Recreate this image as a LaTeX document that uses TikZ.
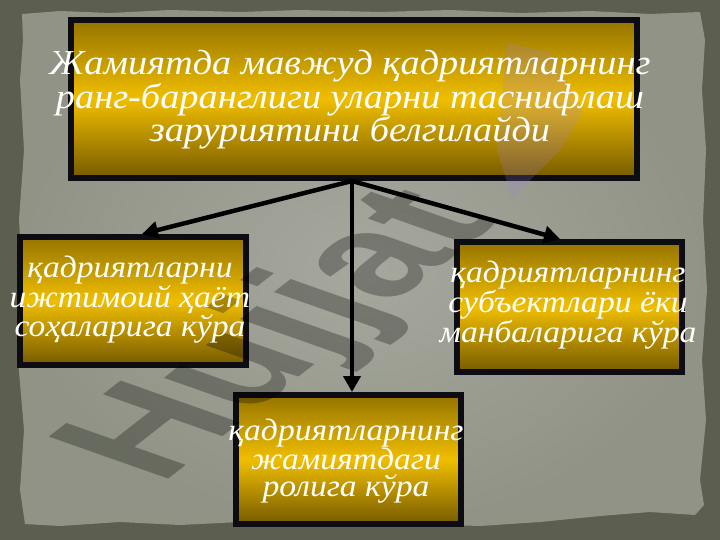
\documentclass[tikz,border=0pt]{standalone}
\usepackage{fontspec}
\setmainfont{Liberation Serif}
\newfontfamily\txtfont{Liberation Serif}[FakeStretch=1.085]
\newfontfamily\bigfont{Liberation Serif}[FakeStretch=1.095]
\newfontfamily\wmfont{Liberation Sans}
\usetikzlibrary{arrows.meta,calc}
\definecolor{bgdark}{HTML}{5C5F50}
\definecolor{paperin}{HTML}{A6A89E}
\definecolor{paperout}{HTML}{909385}
\definecolor{goldtop}{HTML}{957400}
\definecolor{goldmid}{HTML}{F0BE00}
\definecolor{goldbot}{HTML}{765A00}
\definecolor{boxline}{HTML}{0C0C12}
\definecolor{lav}{HTML}{A080E8}
\begin{document}
\begin{tikzpicture}[x=1pt,y=-1pt,
  box/.style={draw=boxline, line width=6pt, top color=goldtop, bottom color=goldbot, middle color=goldmid, inner sep=0pt},
  txt/.style={text=white, font=\txtfont\itshape\fontsize{31}{27}\selectfont, align=center, inner sep=0pt},
  bigtxt/.style={txt, font=\bigfont\itshape\fontsize{35}{30}\selectfont},
  conn/.style={draw=black, line width=4.5pt, -{Triangle[length=16pt,width=17pt]}},
  wm/.style={font=\wmfont\bfseries\fontsize{155}{155}\selectfont, text=black, text opacity=0.28, inner sep=0pt, rotate=38, xslant=-0.64}]
\useasboundingbox (0,0) rectangle (720,540);
\fill[bgdark] (0,0) rectangle (720,540);
\shade[inner color=paperin, outer color=paperout]
 (22,14) -- (60,11) -- (110,13) -- (170,10) -- (240,12) -- (300,10) -- (380,12) -- (450,10) -- (520,13) -- (590,11) -- (650,14) -- (700,12)
 -- (705,40) -- (702,90) -- (706,150) -- (703,220) -- (707,290) -- (702,360) -- (706,420) -- (700,480) -- (704,505) -- (695,515)
 -- (650,512) -- (600,516) -- (540,522) -- (480,526) -- (420,524) -- (360,527) -- (300,525) -- (240,522) -- (180,525) -- (120,522) -- (60,526) -- (25,524)
 -- (20,490) -- (24,430) -- (18,360) -- (23,290) -- (19,220) -- (24,150) -- (20,80) -- (23,40) -- cycle;
% boxes
\node[box, minimum width=566pt, minimum height=158pt] (main) at (354,99) {};
\node[box, minimum width=226pt, minimum height=128pt] (left) at (133,301) {};
\node[box, minimum width=225pt, minimum height=130pt] (right) at (569.5,307) {};
\node[box, minimum width=225pt, minimum height=129pt] (bottom) at (348.5,459.5) {};
% logo shape
\fill[lav, opacity=0.2] (507,43) -- (550,52) -- (583,112) -- (560,150) -- (512,198) -- (497,150) -- cycle;
% watermark
\node[wm] (wmark) at (285,337) {Hujjat};
% connectors
\draw[conn] ([xshift=-2pt]main.south) -- ([xshift=9pt]left.north);
\draw[conn] ([xshift=-2pt]main.south) -- ([xshift=-2pt]main.south |- bottom.north);
\draw[conn] ([xshift=-2pt]main.south) -- ([xshift=-9.5pt]right.north);
% texts
\node[bigtxt] (mainT) at (350,100) {Жамиятда мавжуд қадриятларнинг\\ранг-баранглиги уларни таснифлаш\\заруриятини белгилайди};
\node[txt] (leftT) at (130,300) {қадриятларни\\ижтимоий ҳаёт\\соҳаларига кўра};
\node[txt] (rightT) at (568,305) {қадриятларнинг\\субъектлари ёки\\манбаларига кўра};
\node[txt] (bottomT) at (346,461) {қадриятларнинг\\жамиятдаги\\ролига кўра};
\end{tikzpicture}
\end{document}
